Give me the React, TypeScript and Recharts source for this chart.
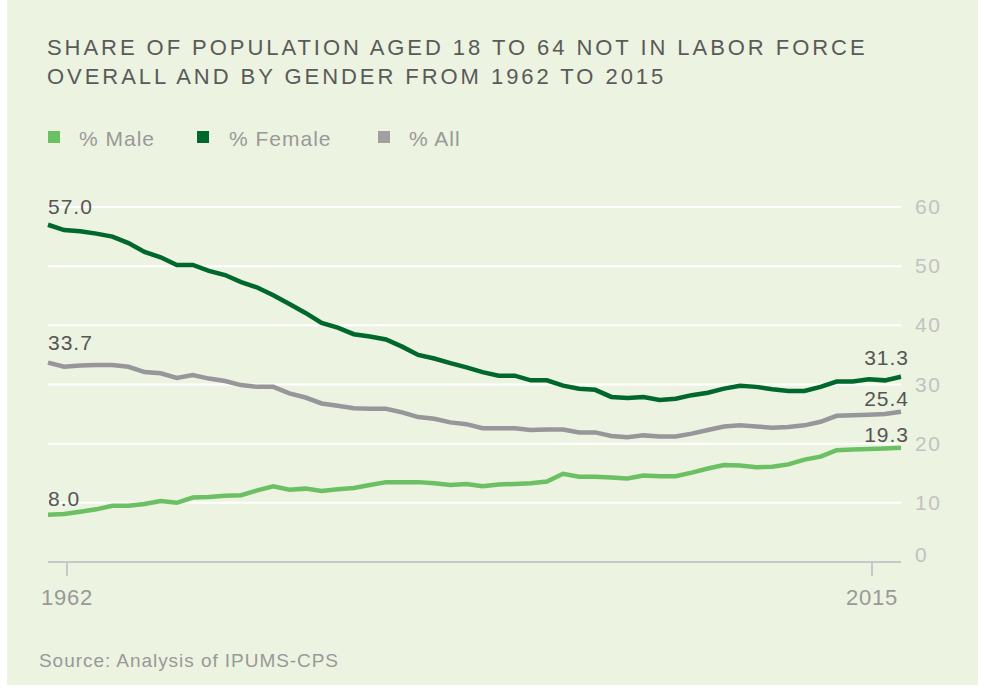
import { LineChart, Line, XAxis, YAxis, CartesianGrid } from 'recharts'

const years = [
  1962, 1963, 1964, 1965, 1966, 1967, 1968, 1969, 1970, 1971,
  1972, 1973, 1974, 1975, 1976, 1977, 1978, 1979, 1980, 1981,
  1982, 1983, 1984, 1985, 1986, 1987, 1988, 1989, 1990, 1991,
  1992, 1993, 1994, 1995, 1996, 1997, 1998, 1999, 2000, 2001,
  2002, 2003, 2004, 2005, 2006, 2007, 2008, 2009, 2010, 2011,
  2012, 2013, 2014, 2015,
]

const male = [
  8.0, 8.1, 8.5, 8.9, 9.5, 9.5, 9.8, 10.3, 10.0, 10.9,
  11.0, 11.2, 11.3, 12.1, 12.8, 12.2, 12.4, 12.0, 12.3, 12.5,
  13.0, 13.5, 13.5, 13.5, 13.3, 13.0, 13.2, 12.8, 13.1, 13.2,
  13.3, 13.6, 14.9, 14.4, 14.4, 14.3, 14.1, 14.6, 14.5, 14.5,
  15.1, 15.8, 16.4, 16.3, 16.0, 16.1, 16.5, 17.3, 17.8, 18.9,
  19.0, 19.1, 19.2, 19.3,
]

const female = [
  57.0, 56.1, 55.9, 55.5, 55.0, 53.9, 52.4, 51.5, 50.2, 50.2,
  49.2, 48.5, 47.3, 46.4, 45.1, 43.6, 42.1, 40.4, 39.6, 38.5,
  38.1, 37.6, 36.4, 35.0, 34.4, 33.6, 32.9, 32.1, 31.5, 31.5,
  30.7, 30.7, 29.8, 29.3, 29.1, 27.9, 27.7, 27.9, 27.4, 27.6,
  28.2, 28.6, 29.3, 29.8, 29.6, 29.2, 28.9, 28.9, 29.6, 30.5,
  30.5, 30.9, 30.7, 31.3,
]

const all = [
  33.7, 33.0, 33.2, 33.3, 33.3, 33.0, 32.1, 31.9, 31.1, 31.6,
  31.0, 30.6, 29.9, 29.6, 29.6, 28.5, 27.8, 26.8, 26.4, 26.0,
  25.9, 25.9, 25.3, 24.5, 24.2, 23.6, 23.3, 22.6, 22.6, 22.6,
  22.3, 22.4, 22.4, 21.9, 21.9, 21.3, 21.1, 21.4, 21.2, 21.2,
  21.7, 22.3, 22.9, 23.1, 22.9, 22.7, 22.8, 23.1, 23.7, 24.7,
  24.8, 24.9, 25.0, 25.4,
]

const yTicks = [0, 10, 20, 30, 40, 50, 60]
const xTicks = [1962, 2015]

const chartData = years.map((year, i) => ({ year, male: male[i], female: female[i], all: all[i] }))

const FONT = '"Liberation Sans", Arial, Helvetica, sans-serif'
const MALE = '#6cc064'
const FEMALE = '#00672d'
const ALL = '#96969b'

// tick marks sit a little inside the ends of the lines in the original
const xTickShift: Record<number, number> = { 1962: 19, 2015: -29 }

function XTick({ x, y, payload }: any) {
  const cx = x + (xTickShift[payload.value] || 0)
  return (
    <g>
      <line x1={cx} x2={cx} y1={y - 9} y2={y + 6} stroke="#c8c8c8" strokeWidth={2} />
      <text x={cx} y={y + 35} textAnchor="middle" fill="#999" fontSize={22} letterSpacing={0.8} fontFamily={FONT}>
        {payload.value}
      </text>
    </g>
  )
}

function YTick({ x, y, payload }: any) {
  const lift = payload.value === 0 ? -7 : 0
  return (
    <text x={x} y={y + 7 + lift} textAnchor="start" fill="#c2c2c2" fontSize={21} letterSpacing={1.5} fontFamily={FONT}>
      {payload.value}
    </text>
  )
}

const endLabel = (startDy: number, endDy: number) => (props: any) => {
  const { x, y, index, value } = props
  const style = { fill: '#555', fontSize: 21, letterSpacing: 1, fontFamily: FONT }
  if (index === 0) {
    return <text key="s" x={x} y={y + startDy} textAnchor="start" {...style}>{Number(value).toFixed(1)}</text>
  }
  if (index === years.length - 1) {
    return <text key="e" x={x + 8} y={y + endDy} textAnchor="end" {...style}>{Number(value).toFixed(1)}</text>
  }
  return null
}

const legendItems = [
  { label: '% Male', color: MALE, x: 48, textX: 79 },
  { label: '% Female', color: FEMALE, x: 197, textX: 229 },
  { label: '% All', color: '#a0a0a0', x: 378, textX: 409 },
]

export default function App() {
  return (
    <div style={{ position: 'absolute', left: 0, top: 0, width: 985, height: 693, background: '#fff', fontFamily: FONT }}>
      <div style={{ position: 'absolute', left: 7, top: 0, width: 971, height: 685, background: '#ecf3e0' }} />
      <svg width={985} height={693} style={{ position: 'absolute', left: 0, top: 0 }}>
        <text x={47} y={55} fill="#5a5a5a" fontSize={22} letterSpacing={2.95} fontFamily={FONT}>
          SHARE OF POPULATION AGED 18 TO 64 NOT IN LABOR FORCE
        </text>
        <text x={47} y={84} fill="#5a5a5a" fontSize={22} letterSpacing={2.95} fontFamily={FONT}>
          OVERALL AND BY GENDER FROM 1962 TO 2015
        </text>
        {legendItems.map((d) => (
          <g key={d.label}>
            <rect x={d.x} y={131} width={12} height={12} fill={d.color} />
            <text x={d.textX} y={146} fill="#999" fontSize={21} letterSpacing={1} fontFamily={FONT}>
              {d.label}
            </text>
          </g>
        ))}
        <text x={39} y={667} fill="#999" fontSize={19} letterSpacing={0.95} fontFamily={FONT}>
          Source: Analysis of IPUMS-CPS
        </text>
      </svg>
      <div style={{ position: 'absolute', left: 0, top: 0 }}>
        <LineChart width={985} height={693} data={chartData} margin={{ top: 207, right: 24, bottom: 91, left: 48 }}>
          <CartesianGrid vertical={false} stroke="#ffffff" strokeWidth={2} />
          <XAxis
            dataKey="year"
            type="number"
            domain={[1962, 2015]}
            ticks={xTicks}
            axisLine={{ stroke: '#c8c8c8', strokeWidth: 2 }}
            tickLine={false}
            tick={<XTick />}
            height={40}
            interval={0}
          />
          <YAxis
            orientation="right"
            domain={[0, 60]}
            ticks={yTicks}
            axisLine={false}
            tickLine={false}
            tickMargin={8}
            tick={<YTick />}
            width={60}
          />
          <Line dataKey="all" stroke={ALL} strokeWidth={4.5} dot={false} isAnimationActive={false} label={endLabel(-12.5, -5.5)} />
          <Line dataKey="male" stroke={MALE} strokeWidth={4.5} dot={false} isAnimationActive={false} label={endLabel(-8.5, -5.5)} />
          <Line dataKey="female" stroke={FEMALE} strokeWidth={4.5} dot={false} isAnimationActive={false} label={endLabel(-11, -12)} />
        </LineChart>
      </div>
    </div>
  )
}
